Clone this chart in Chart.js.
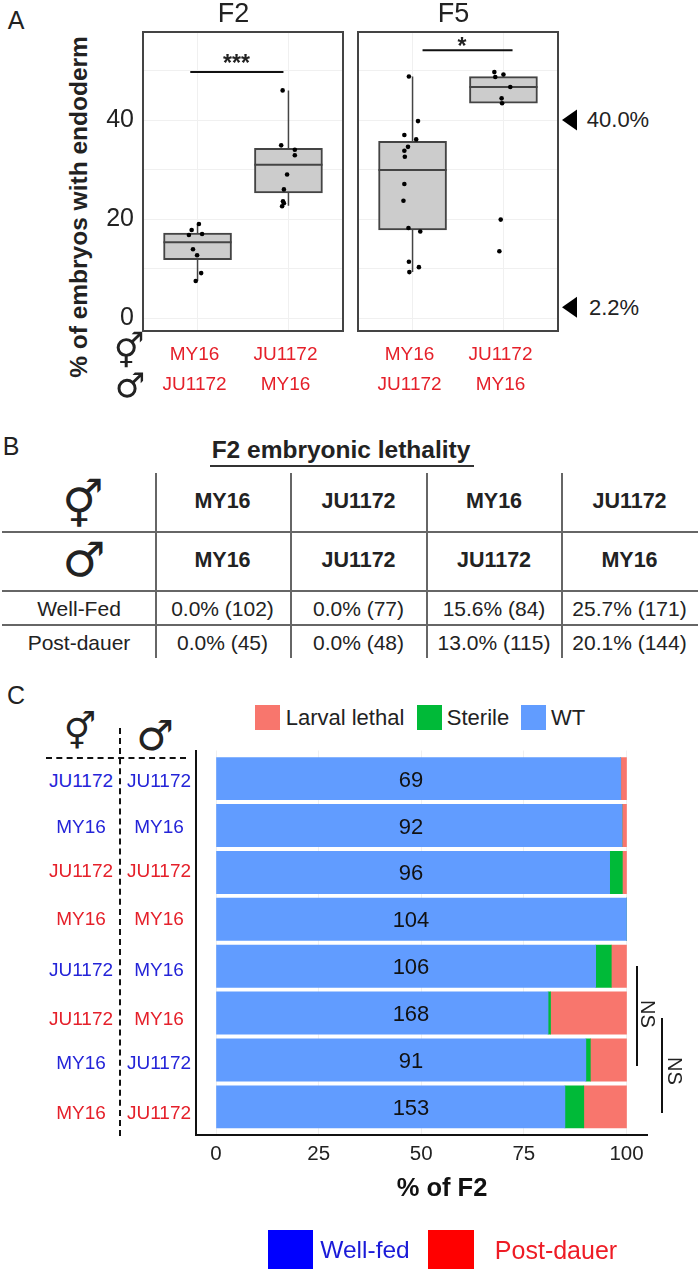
<!DOCTYPE html>
<html>
<head>
<meta charset="utf-8">
<title>F2 and F5 endoderm, lethality and larval outcome</title>
<script src="https://cdn.jsdelivr.net/npm/chart.js@4"></script>
<style>
  html, body { margin: 0; padding: 0; background: #fff; }
  #page { position: relative; width: 698px; height: 1271px; overflow: hidden; font-family: "Liberation Sans", Arial, sans-serif; color: #222; }
  #page canvas { position: absolute; }
  .txt { position: absolute; transform: translate(-50%, -50%); white-space: nowrap; line-height: 1; }
  .rule { position: absolute; }
  .sym { font-family: "DejaVu Sans", sans-serif; }
</style>
</head>
<body>
<div id="page">
  <canvas id="chartF2" width="249" height="400" style="left:100px;top:0"></canvas>
  <canvas id="chartF5" width="235" height="400" style="left:350px;top:0"></canvas>
  <canvas id="chartC" width="470" height="465" style="left:190px;top:745px"></canvas>
</div>
<script>
// panel A data
const crossLabels = [["MY16", "JU1172"], ["JU1172", "MY16"]];

const f2Q1 = [11.8, 25.3];
const f2Median = [15.35, 31.0];
const f2Q3 = [17.2, 34.3];
const f2WhiskerLow = [7.5, 22.7];
const f2WhiskerHigh = [19.0, 46.0];
const f2PointsX = [1.015, 0.935, 0.905, 1.05, 0.95, 0.995, 1.04, 0.98, 1.936, 1.92, 2.07, 2.07, 1.985, 1.95, 1.94, 1.95, 1.93];
const f2PointsY = [19.0, 17.8, 16.8, 17.0, 13.9, 12.7, 9.1, 7.5, 46.0, 34.9, 34.0, 32.9, 29.0, 26.0, 23.6, 23.2, 22.6];
const f2Bracket = [0.92, 1.945, 49.7];

const f5Q1 = [17.8, 43.4];
const f5Median = [29.9, 46.7];
const f5Q3 = [35.7, 48.8];
const f5WhiskerLow = [9.3, 43.4];
const f5WhiskerHigh = [48.8, 48.8];
const f5PointsX = [0.96, 1.06, 0.91, 1.04, 0.95, 0.91, 0.915, 0.91, 0.9, 0.955, 1.085, 0.96, 1.07, 0.965, 1.9, 2.0, 1.91, 2.075, 1.98, 1.985, 1.97, 1.955];
const f5PointsY = [48.8, 39.8, 37.0, 36.1, 34.6, 33.8, 32.6, 27.1, 23.7, 18.2, 17.5, 11.4, 10.3, 9.3, 49.7, 49.2, 48.7, 46.7, 44.4, 43.4, 19.9, 13.5];
const f5Bracket = [1.11, 2.1, 54.1];

const markedLevels = [40.0, 2.2];

// panel B data
const tableFemale = ["MY16", "JU1172", "MY16", "JU1172"];
const tableMale = ["MY16", "JU1172", "JU1172", "MY16"];
const tableWellFed = ["0.0% (102)", "0.0% (77)", "15.6% (84)", "25.7% (171)"];
const tablePostDauer = ["0.0% (45)", "0.0% (48)", "13.0% (115)", "20.1% (144)"];

// panel C data
const rowFemale = ["JU1172", "MY16", "JU1172", "MY16", "JU1172", "JU1172", "MY16", "MY16"];
const rowMale = ["JU1172", "MY16", "JU1172", "MY16", "MY16", "MY16", "JU1172", "JU1172"];
const rowIsWellFed = [true, true, false, false, true, false, true, false];
const rowCounts = [69, 92, 96, 104, 106, 168, 91, 153];
const wtValues = [98.6, 98.9, 95.9, 100, 92.5, 80.9, 90.1, 85.0];
const sterileValues = [0, 0, 3.1, 0, 3.8, 0.6, 1.1, 4.6];
const lethalValues = [1.4, 1.1, 1.0, 0, 3.7, 18.5, 8.8, 10.4];

const WT_COLOR = "#619CFF";
const STERILE_COLOR = "#00BA38";
const LETHAL_COLOR = "#F8766D";
const DARK = "#444";
const GRID = "#f0f0f0";
const FONT = "'Liberation Sans', Arial, sans-serif";
const RED = "#e5202a";
const BLUE = "#2424d8";

const page = document.getElementById("page");

function addText(text, x, y, size, extra) {
  const el = document.createElement("div");
  el.className = "txt";
  el.textContent = text;
  el.style.left = x + "px";
  el.style.top = y + "px";
  el.style.fontSize = size + "px";
  if (extra) {
    Object.keys(extra).forEach(k => { el.style[k] = extra[k]; });
  }
  page.appendChild(el);
  return el;
}

function addSym(text, x, y, size) {
  const el = addText(text, x, y, size);
  el.classList.add("sym");
  return el;
}

function addRule(x, y, w, h, css) {
  const el = document.createElement("div");
  el.className = "rule";
  el.style.left = x + "px";
  el.style.top = y + "px";
  el.style.width = w + "px";
  el.style.height = h + "px";
  Object.keys(css).forEach(k => { el.style[k] = css[k]; });
  page.appendChild(el);
}

// border around the facet panels
const panelBorder = {
  id: "panelBorder",
  afterDraw(chart) {
    const a = chart.chartArea;
    const c = chart.ctx;
    c.save();
    c.strokeStyle = DARK;
    c.lineWidth = 2;
    c.strokeRect(a.left, a.top, a.right - a.left, a.bottom - a.top);
    c.restore();
  }
};

// arrowheads right of F5, placed by its y scale
const levelMarks = {
  id: "levelMarks",
  afterDraw(chart) {
    if (chart.canvas.id !== "chartF5") return;
    const c = chart.ctx;
    const x = chart.chartArea.right;
    c.save();
    c.fillStyle = "#000";
    markedLevels.forEach(v => {
      const y = chart.scales.y.getPixelForValue(v);
      c.beginPath();
      c.moveTo(x + 4, y);
      c.lineTo(x + 19, y - 10.5);
      c.lineTo(x + 19, y + 10.5);
      c.closePath();
      c.fill();
    });
    c.restore();
  }
};

function verticalSegments(lows, highs) {
  const out = [];
  lows.forEach((low, i) => {
    out.push({x: i + 1, y: low}, {x: i + 1, y: highs[i]}, {x: i + 1, y: null});
  });
  return out;
}

function medianSegments(medians) {
  const out = [];
  medians.forEach((m, i) => {
    out.push({x: i + 0.625, y: m}, {x: i + 1.375, y: m}, {x: i + 1, y: null});
  });
  return out;
}

function facetChart(id, q1, med, q3, low, high, px, py, bracket, showAxis, padLeft, padRight) {
  return new Chart(document.getElementById(id), {
    data: {
      datasets: [
        {
          type: "scatter", order: 1,
          data: px.map((x, i) => ({x: x, y: py[i]})),
          backgroundColor: "#000", borderColor: "#000", pointRadius: 2.3, pointBorderWidth: 0
        },
        {
          type: "scatter", order: 2, showLine: true, pointRadius: 0,
          borderColor: DARK, borderWidth: 2,
          data: medianSegments(med)
        },
        {
          type: "bar", order: 3, grouped: false, barThickness: 68,
          data: q1.map((v, i) => ({x: i + 1, y: [v, q3[i]]})),
          backgroundColor: "#cccccc", borderColor: DARK, borderWidth: 2, borderSkipped: false
        },
        {
          type: "scatter", order: 4, showLine: true, pointRadius: 0,
          borderColor: DARK, borderWidth: 1.5,
          data: verticalSegments(low, high)
        },
        {
          type: "scatter", order: 5, showLine: true, pointRadius: 0,
          borderColor: "#111", borderWidth: 2,
          data: [{x: bracket[0], y: bracket[2]}, {x: bracket[1], y: bracket[2]}]
        }
      ]
    },
    options: {
      responsive: false,
      animation: false,
      events: [],
      layout: {padding: {top: 32, left: padLeft, right: padRight, bottom: 0}},
      plugins: {legend: {display: false}, tooltip: {enabled: false}},
      scales: {
        x: {
          type: "linear", min: 0.4, max: 2.6, offset: false,
          grid: {color: GRID, drawTicks: false, offset: false},
          border: {display: false},
          afterFit: s => { s.height = 69; },
          ticks: {
            stepSize: 1, includeBounds: false, autoSkip: false, maxRotation: 0,
            color: RED, padding: 9, labelOffset: -3,
            font: {family: FONT, size: 19, lineHeight: 1.58},
            callback: v => crossLabels[v - 1]
          }
        },
        y: {
          type: "linear", min: -2.6, max: 57.8,
          grid: {color: GRID, drawTicks: false},
          border: {display: false},
          afterFit: s => { s.width = showAxis ? 43 : 0; },
          ticks: {
            display: showAxis, stepSize: 10, includeBounds: false, padding: 9,
            color: "#222", font: {family: FONT, size: 25},
            callback: v => (v % 20 === 0 ? v : "")
          }
        }
      }
    },
    plugins: [panelBorder, levelMarks]
  });
}

facetChart("chartF2", f2Q1, f2Median, f2Q3, f2WhiskerLow, f2WhiskerHigh, f2PointsX, f2PointsY, f2Bracket, true, 0, 6);
facetChart("chartF5", f5Q1, f5Median, f5Q3, f5WhiskerLow, f5WhiskerHigh, f5PointsX, f5PointsY, f5Bracket, false, 8, 27);

// bar counts in panel C
const countLabels = {
  id: "countLabels",
  afterDatasetsDraw(chart) {
    const c = chart.ctx;
    c.save();
    c.fillStyle = "#111";
    c.font = "22px " + FONT;
    c.textAlign = "center";
    c.textBaseline = "middle";
    rowCounts.forEach((n, i) => {
      c.fillText(n, chart.scales.x.getPixelForValue(47.5), chart.scales.y.getPixelForValue(i + 1) + 2);
    });
    c.restore();
  }
};

function stackSeries(values, color) {
  return {
    data: values.map((v, i) => ({x: v, y: i + 1})),
    backgroundColor: color,
    barThickness: 42.3,
    borderWidth: 0
  };
}

new Chart(document.getElementById("chartC"), {
  type: "bar",
  data: {
    datasets: [
      stackSeries(wtValues, WT_COLOR),
      stackSeries(sterileValues, STERILE_COLOR),
      stackSeries(lethalValues, LETHAL_COLOR)
    ]
  },
  options: {
    indexAxis: "y",
    responsive: false,
    animation: false,
    events: [],
    layout: {padding: {top: 5.5, left: 5.5, right: 13, bottom: 0}},
    plugins: {legend: {display: false}, tooltip: {enabled: false}},
    scales: {
      x: {
        type: "linear", stacked: true, min: -5, max: 105,
        grid: {color: GRID, drawTicks: false},
        border: {color: "#111", width: 2},
        afterFit: s => { s.height = 75; },
        ticks: {
          stepSize: 25, includeBounds: false, padding: 7, color: "#222",
          font: {family: FONT, size: 20.5}
        }
      },
      y: {
        type: "linear", stacked: true, reverse: true, min: 0.4, max: 8.6, offset: false,
        grid: {display: false, offset: false},
        border: {color: "#111", width: 2},
        afterFit: s => { s.width = 0; },
        ticks: {display: false, stepSize: 1}
      }
    }
  },
  plugins: [countLabels]
});

// panel letters
addText("A", 16, 20, 25);
addText("B", 11, 446, 25);
addText("C", 16, 695, 25);

// panel A text
addText("F2", 233.5, 13, 27);
addText("F5", 453.5, 13, 27);
addText("***", 236.5, 63, 23, {fontWeight: "bold"});
addText("*", 462, 46, 23, {fontWeight: "bold"});
addText("% of embryos with endoderm", 79, 207, 24.5, {fontWeight: "bold", transform: "translate(-50%, -50%) rotate(-90deg)"});
addSym("\u26A5", 129, 351, 34);
addSym("\u2642", 130, 385, 34);
addText("40.0%", 618, 120, 22);
addText("2.2%", 614, 308, 22);

// panel B table
addText("F2 embryonic lethality", 341, 450, 24.5, {fontWeight: "bold"});
addRule(210, 465, 264, 2, {background: "#333"});

const tableColumnCenters = [222.5, 358.5, 494, 629.5];
[155, 290, 426, 561].forEach(x => addRule(x, 473, 1.5, 185, {background: "#666"}));
[531, 590, 624].forEach(y => addRule(2, y, 696, 1.5, {background: "#666"}));

addSym("\u26A5", 83, 505, 46);
addSym("\u2642", 84, 559, 48);
addText("Well-Fed", 79, 608, 21);
addText("Post-dauer", 79, 642, 21);
tableColumnCenters.forEach((x, i) => {
  addText(tableFemale[i], x, 502, 21.5, {fontWeight: "bold"});
  addText(tableMale[i], x, 561, 21.5, {fontWeight: "bold"});
  addText(tableWellFed[i], x, 608, 21);
  addText(tablePostDauer[i], x, 642, 21);
});

// panel C legend
const legendNames = ["Larval lethal", "Sterile", "WT"];
const legendColors = [LETHAL_COLOR, STERILE_COLOR, WT_COLOR];
const legendBoxX = [255, 417, 521];
const legendTextX = [345, 478, 568];
legendNames.forEach((name, i) => {
  addRule(legendBoxX[i], 705, 25, 25, {background: legendColors[i]});
  addText(name, legendTextX[i], 718, 22);
});

// panel C row labels and guides
addSym("\u26A5", 80, 732, 36);
addSym("\u2642", 155, 736, 42);
addRule(46, 757, 140, 0, {borderTop: "2px dashed #111"});
addRule(119, 728, 0, 408, {borderLeft: "2px dashed #111"});

const rowLabelY = [780, 826, 870, 918, 969, 1018, 1062, 1112];
rowFemale.forEach((name, i) => {
  const color = rowIsWellFed[i] ? BLUE : RED;
  addText(name, 81, rowLabelY[i], 19, {color: color});
  addText(rowMale[i], 159, rowLabelY[i], 19, {color: color});
});

addRule(636, 966, 2, 100, {background: "#111"});
addRule(661, 1018, 2, 95, {background: "#111"});
addText("NS", 648, 1014, 20, {transform: "translate(-50%, -50%) rotate(90deg)"});
addText("NS", 675, 1071, 20, {transform: "translate(-50%, -50%) rotate(90deg)"});

addText("% of F2", 442, 1188, 25.5, {fontWeight: "bold", color: "#111"});

// source key
addRule(268, 1230, 45, 39, {background: "#0000ff"});
addRule(428, 1230, 46, 39, {background: "#ff0000"});
addText("Well-fed", 365, 1250, 24.5, {color: "#1a1ad8"});
addText("Post-dauer", 556, 1250, 25, {color: "#ee1c25"});
</script>
</body>
</html>
